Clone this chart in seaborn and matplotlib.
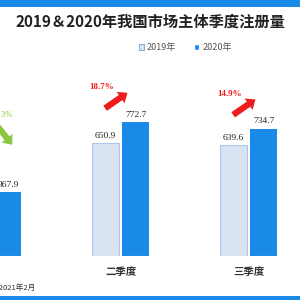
import numpy as np
import pandas as pd
import matplotlib.pyplot as plt
import seaborn as sns
from matplotlib.patches import Rectangle

# data
quarters = ['一季度', '二季度', '三季度']
years = ['2019年', '2020年']
v2019 = [479.7, 650.9, 639.6]
v2020 = [367.9, 772.7, 734.7]
changes = ['-23.3%', '18.7%', '14.9%']

df = pd.DataFrame({
    'quarter': quarters * 2,
    'year': [years[0]] * 3 + [years[1]] * 3,
    'value': v2019 + v2020,
})

c19 = '#dae3f3'
c20 = '#1a8ae8'
red = '#ee1c1c'
green = '#8cc63f'

sns.set_style('white')
plt.rcParams['font.family'] = ['Noto Sans CJK SC', 'DejaVu Sans']

fig = plt.figure(figsize=(3, 3), dpi=100)
ax = fig.add_axes([0, 44 / 300, 1, 196 / 300])

sns.barplot(data=df, x='quarter', y='value', hue='year', hue_order=years,
            palette=[c19, c20], saturation=1, width=0.47, gap=0.1, ax=ax, legend=True)

for p in ax.containers[0]:
    p.set_edgecolor('#a9c8ea')
    p.set_linewidth(0.8)
for p in ax.containers[1]:
    p.set_edgecolor(c20)
    p.set_linewidth(0)

for cont in ax.containers:
    ax.bar_label(cont, fmt='%.1f', padding=2.5, fontsize=6.8,
                 family='Liberation Serif', color='#222222')

ax.set_xlim(0.057, 2.40)
ax.set_ylim(0, 1130)
ax.axhline(0, color='#d9d9d9', lw=0.8)
sns.despine(ax=ax, left=True, bottom=True, top=True, right=True)
ax.set_yticks([])
ax.set_xlabel('')
ax.set_ylabel('')
ax.tick_params(axis='x', length=0, pad=8)
for t in ax.get_xticklabels():
    t.set_fontweight('bold')
    t.set_fontsize(7.5)
    t.set_color('#333333')

# growth arrows and labels
for i, lab in enumerate(changes):
    top = max(v2019[i], v2020[i])
    if lab.startswith('-'):
        ax.annotate('', xy=(i + 0.166, v2020[i] + 261), xytext=(i - 0.05, v2020[i] + 460),
                    arrowprops=dict(arrowstyle='simple,head_length=0.6,head_width=1.0,tail_width=0.45',
                                    color=green, lw=0))
        ax.text(i + 0.155, v2020[i] + 445, lab, color=green, fontsize=6.3,
                ha='right', va='center', family='Liberation Serif')
    else:
        ax.annotate('', xy=(i + 0.07, top + 177), xytext=(i - 0.14, top + 70),
                    arrowprops=dict(arrowstyle='simple,head_length=0.6,head_width=1.0,tail_width=0.45',
                                    color=red, lw=0))
        ax.text(i - 0.15, top + 200, lab, color=red, fontsize=6.5,
                ha='center', va='center', family='Liberation Serif', fontweight='bold')

# legend
h, l = ax.get_legend_handles_labels()
leg = ax.legend(h, l, loc='center', bbox_to_anchor=(0.617, 1 - 48 / 300),
                bbox_transform=fig.transFigure, ncol=2, frameon=False,
                fontsize=6.5, handlelength=0.6, handleheight=0.6,
                columnspacing=2.0, handletextpad=0.3)
for t in leg.get_texts():
    t.set_color('#555555')
leg.legend_handles[0].set_edgecolor('#7fb2e5')
leg.legend_handles[0].set_linewidth(0.8)

# title and decoration
fig.text(0.5, 1 - 22 / 300, '2019＆2020年我国市场主体季度注册量', ha='center', va='center',
         fontsize=11, fontweight='bold', color='#222222')
fig.text(35 / 300, 1 - 288 / 300, '资料来源：国家市场监督管理总局  时间：2021年2月',
         ha='right', va='center', fontsize=5.5, color='#333333')
fig.add_artist(Rectangle((0, 1 - 7 / 300), 1, 7 / 300, transform=fig.transFigure,
                         color=c20, lw=0))
fig.add_artist(Rectangle((0, 0), 1, 4 / 300, transform=fig.transFigure,
                         color=c20, lw=0))

fig.savefig('out.png', dpi=100)
